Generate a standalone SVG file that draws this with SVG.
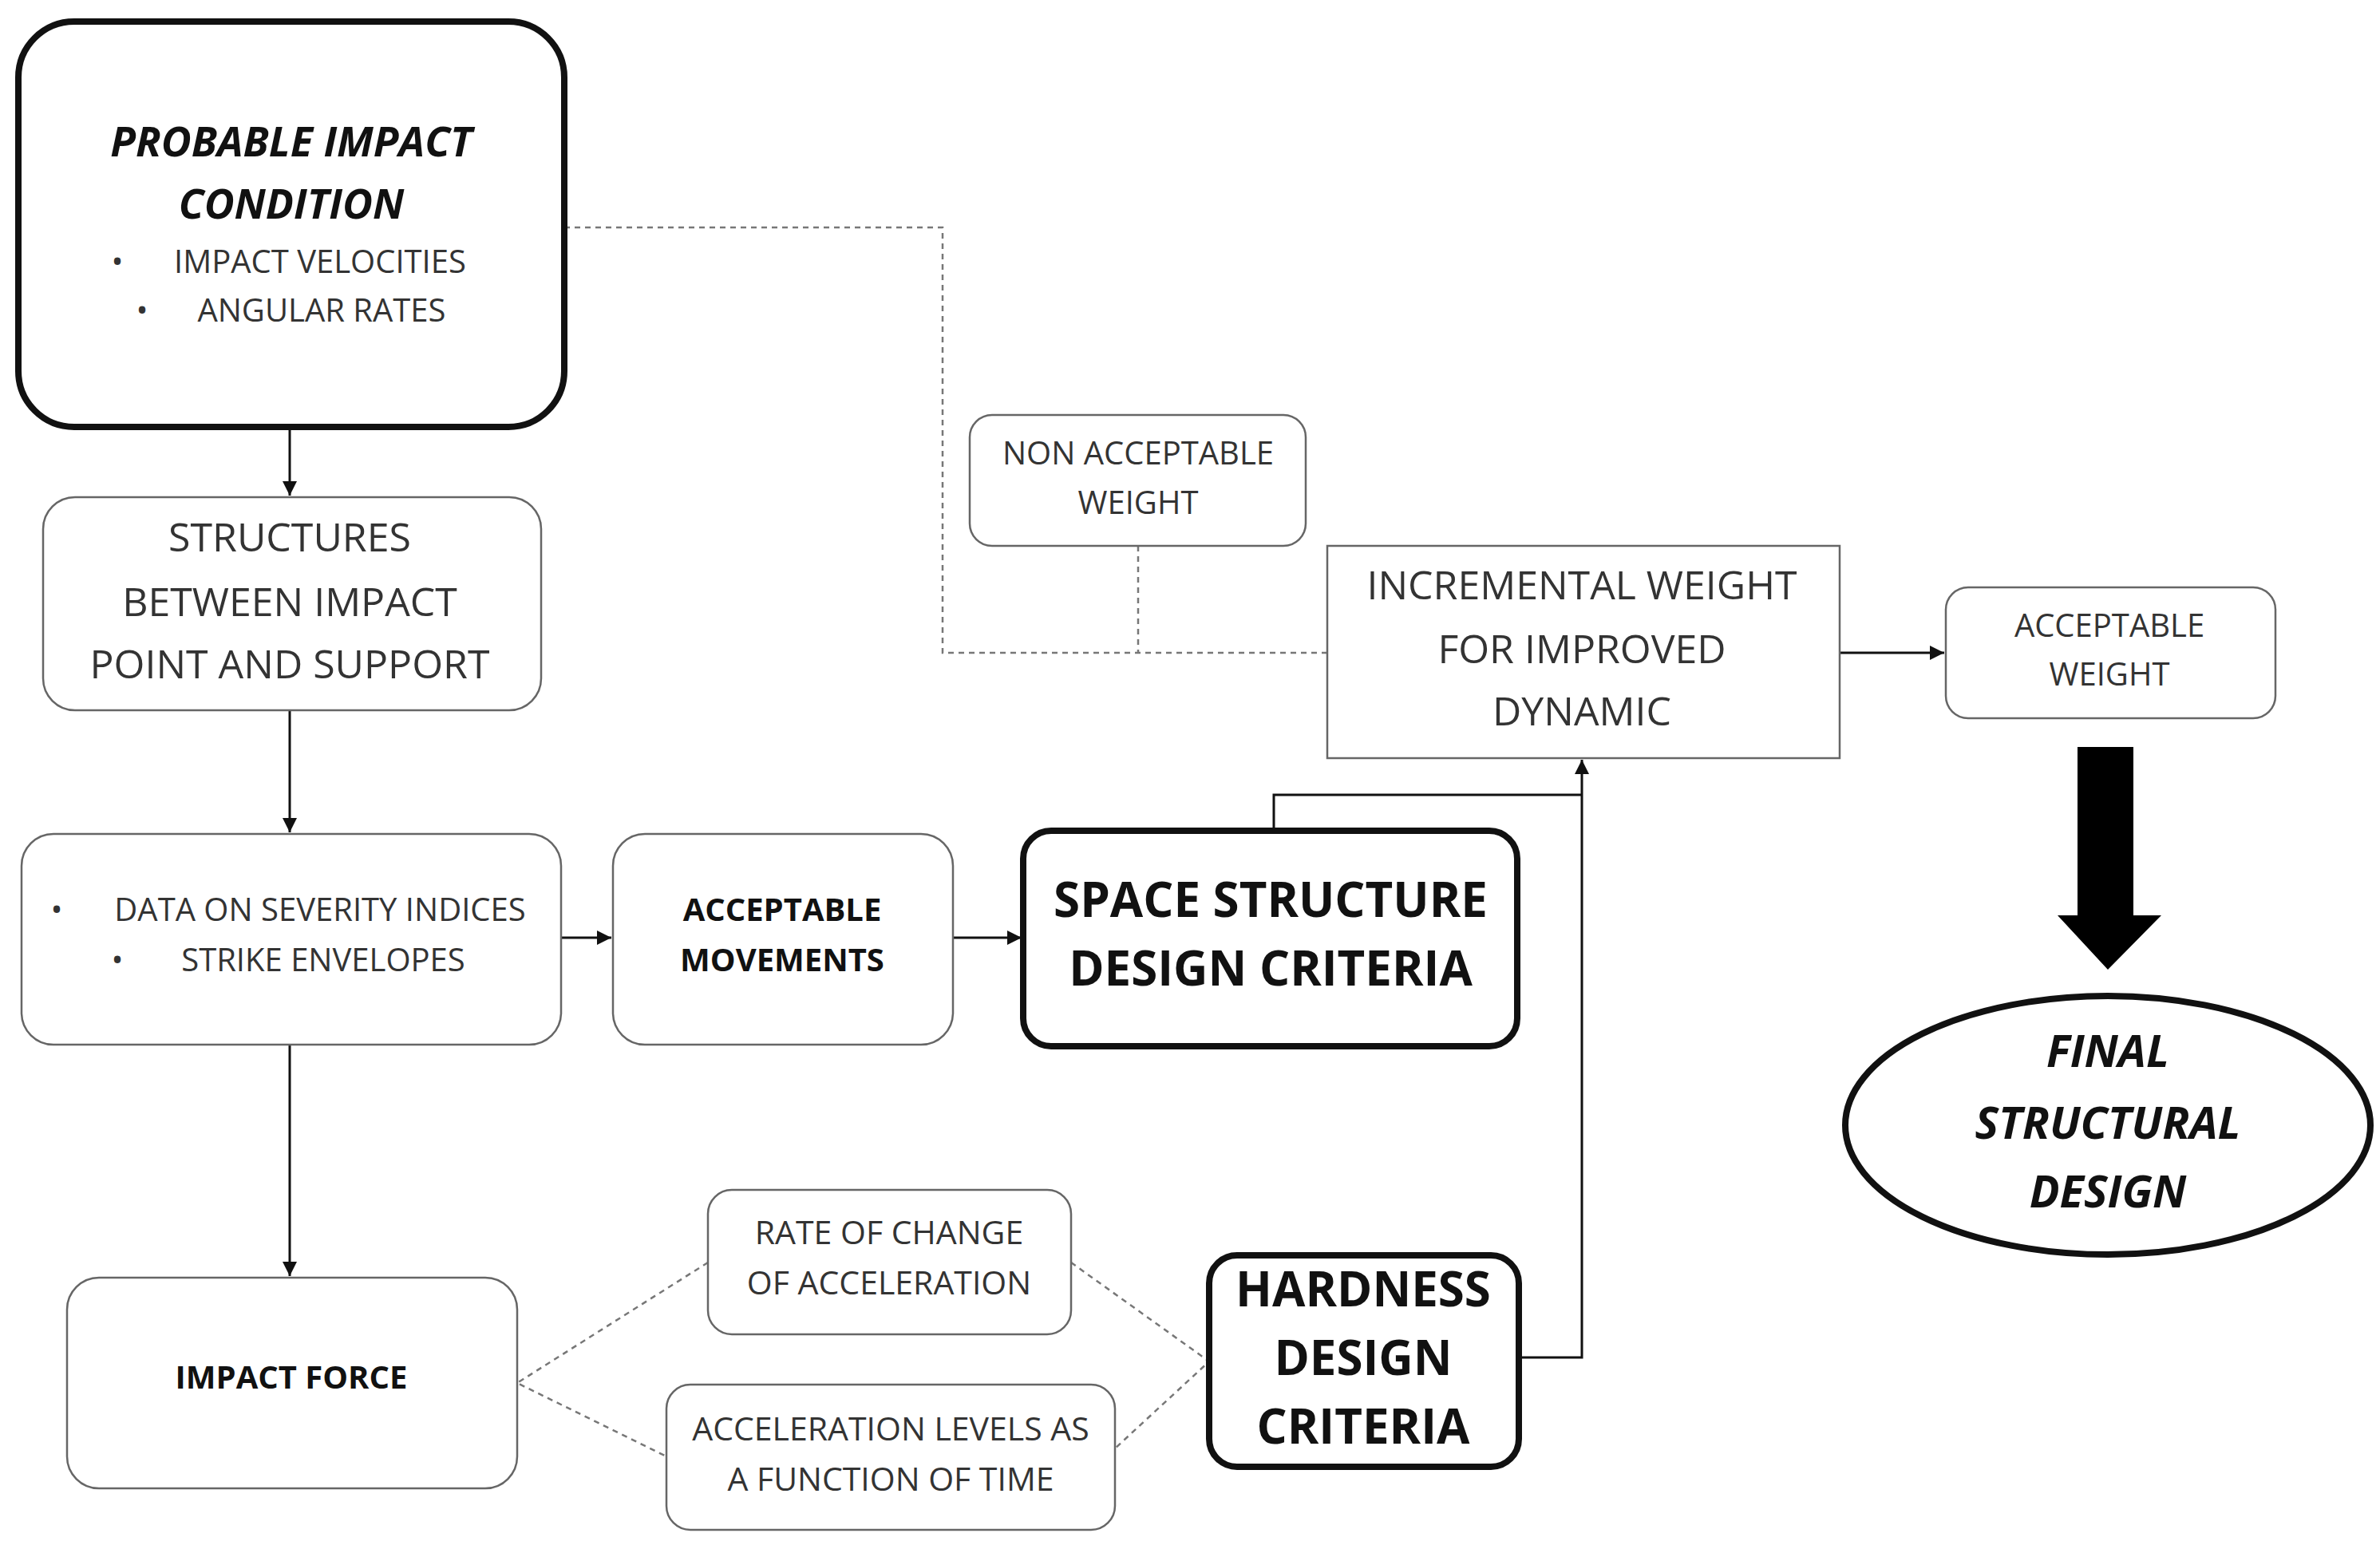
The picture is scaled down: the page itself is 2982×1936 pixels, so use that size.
<svg xmlns="http://www.w3.org/2000/svg" width="2982" height="1936" viewBox="0 0 2982 1936">
<defs>
<style>
text{font-family:"Open Sans","Liberation Sans",sans-serif;fill:#333;text-anchor:middle;dominant-baseline:middle}
.thin{fill:#fff;stroke:#666;stroke-width:2.5}
.thick{fill:#fff;stroke:#111;stroke-width:8}
.b{font-weight:bold;fill:#111}
.c{stroke:#111;stroke-width:3;fill:none}
.d{stroke:#777;stroke-width:2.5;fill:none;stroke-dasharray:7 6}
</style>
<marker id="ah" viewBox="0 0 10 10" refX="10" refY="5" markerWidth="6" markerHeight="6" orient="auto"><path d="M0,0L10,5L0,10z" fill="#111"/></marker>
</defs>
<rect width="2982" height="1936" fill="#fff"/>
<g id="connectors">
<line class="c" x1="363" y1="535" x2="363" y2="621" marker-end="url(#ah)"/>
<line class="c" x1="363" y1="890" x2="363" y2="1043" marker-end="url(#ah)"/>
<line class="c" x1="703" y1="1175" x2="766" y2="1175" marker-end="url(#ah)"/>
<line class="c" x1="1194" y1="1175" x2="1280" y2="1175" marker-end="url(#ah)"/>
<line class="c" x1="363" y1="1309" x2="363" y2="1599" marker-end="url(#ah)"/>
<polyline class="c" points="1596,1041 1596,996 1982,996"/>
<polyline class="c" points="1903,1701 1982,1701 1982,952" marker-end="url(#ah)"/>
<line class="c" x1="2305" y1="818" x2="2436" y2="818" marker-end="url(#ah)"/>
<polyline class="d" points="707,285 1181,285 1181,818 1663,818"/>
<line class="d" x1="1426" y1="684" x2="1426" y2="818"/>
<polyline class="d" points="887,1582 648,1733 835,1825"/>
<polyline class="d" points="1342,1582 1515,1706 1397,1815"/>
<polygon points="2603,936 2673,936 2673,1147 2708,1147 2641,1215 2578,1147 2603,1147" fill="#000"/>
</g>
<g id="probable"><rect class="thick" x="23" y="27" width="684" height="508" rx="70"/>
<text class="b" x="365" y="182" font-size="52" font-style="italic">PROBABLE IMPACT</text>
<text class="b" x="365" y="260" font-size="52" font-style="italic">CONDITION</text>
<text x="147" y="331" font-size="40">•</text><text x="401" y="331" font-size="40">IMPACT VELOCITIES</text>
<text x="178" y="392" font-size="40">•</text><text x="403" y="392" font-size="40">ANGULAR RATES</text></g>
<g id="structures"><rect class="thin" x="54" y="623" width="624" height="267" rx="40"/>
<text x="363" y="678" font-size="50">STRUCTURES</text><text x="363" y="759" font-size="50">BETWEEN IMPACT</text><text x="363" y="837" font-size="50">POINT AND SUPPORT</text></g>
<g id="data"><rect class="thin" x="27" y="1045" width="676" height="264" rx="40"/>
<text x="71" y="1143" font-size="40">•</text><text x="401" y="1143" font-size="40">DATA ON SEVERITY INDICES</text>
<text x="147" y="1206" font-size="40">•</text><text x="405" y="1206" font-size="40">STRIKE ENVELOPES</text></g>
<g id="accmov"><rect class="thin" x="768" y="1045" width="426" height="264" rx="40"/>
<text class="b" x="980" y="1143" font-size="40">ACCEPTABLE</text><text class="b" x="980" y="1206" font-size="40">MOVEMENTS</text></g>
<g id="space"><rect class="thick" x="1282" y="1041" width="619" height="270" rx="35"/>
<text class="b" x="1592" y="1133" font-size="60">SPACE STRUCTURE</text><text class="b" x="1592" y="1219" font-size="60">DESIGN CRITERIA</text></g>
<g id="impactforce"><rect class="thin" x="84" y="1601" width="564" height="264" rx="40"/>
<text class="b" x="365" y="1729" font-size="40">IMPACT FORCE</text></g>
<g id="rate"><rect class="thin" x="887" y="1491" width="455" height="181" rx="30"/>
<text x="1114" y="1548" font-size="41">RATE OF CHANGE</text><text x="1114" y="1611" font-size="41">OF ACCELERATION</text></g>
<g id="accel"><rect class="thin" x="835" y="1735" width="562" height="182" rx="30"/>
<text x="1116" y="1794" font-size="41">ACCELERATION LEVELS AS</text><text x="1116" y="1857" font-size="41">A FUNCTION OF TIME</text></g>
<g id="hardness"><rect class="thick" x="1515" y="1573" width="388" height="265" rx="35"/>
<text class="b" x="1708" y="1621" font-size="60">HARDNESS</text><text class="b" x="1708" y="1707" font-size="60">DESIGN</text><text class="b" x="1708" y="1793" font-size="60">CRITERIA</text></g>
<g id="nonacc"><rect class="thin" x="1215" y="520" width="421" height="164" rx="28"/>
<text x="1426" y="571" font-size="40">NON ACCEPTABLE</text><text x="1426" y="633" font-size="40">WEIGHT</text></g>
<g id="incremental"><rect class="thin" x="1663" y="684" width="642" height="266"/>
<text x="1982" y="738" font-size="50">INCREMENTAL WEIGHT</text><text x="1982" y="818" font-size="50">FOR IMPROVED</text><text x="1982" y="896" font-size="50">DYNAMIC</text></g>
<g id="accweight"><rect class="thin" x="2438" y="736" width="413" height="164" rx="28"/>
<text x="2643" y="787" font-size="40">ACCEPTABLE</text><text x="2643" y="848" font-size="40">WEIGHT</text></g>
<g id="final"><ellipse class="thick" cx="2641" cy="1410" rx="329" ry="162"/>
<text class="b" x="2641" y="1322" font-size="56" font-style="italic">FINAL</text><text class="b" x="2641" y="1412" font-size="56" font-style="italic">STRUCTURAL</text><text class="b" x="2641" y="1498" font-size="56" font-style="italic">DESIGN</text></g>
</svg>
